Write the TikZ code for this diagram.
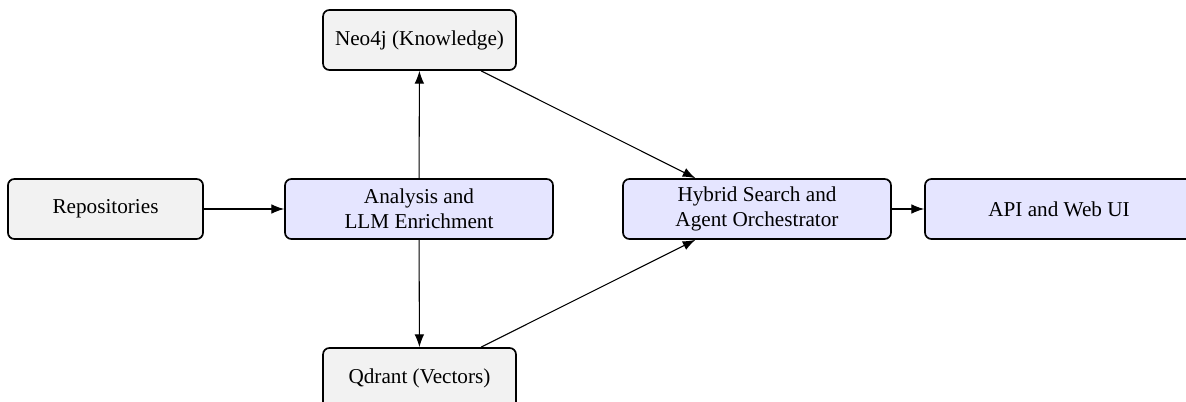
\documentclass[tikz,border=0pt]{standalone}
\usepackage{fontspec}
\setmainfont{Liberation Serif}
\usetikzlibrary{arrows.meta}
\tikzset{
  box/.style={draw, line width=0.8pt, rounded corners=3pt, minimum height=28.3pt, align=center, inner sep=2pt, font=\normalsize},
  graybox/.style={box, fill=gray!10},
  bluebox/.style={box, fill=blue!10},
  conn/.style={-{Latex[length=6pt,width=4.5pt]}, line width=0.5pt},
}
\begin{document}
\begin{tikzpicture}[x=0.4717pt,y=-0.4717pt]
\clip (0,0) rectangle (1186,402);
\useasboundingbox (0,0) rectangle (1186,402);
\node[graybox, minimum width=92pt] (repo) at (105.5,209) {\raisebox{-1pt}{Repositories}};
\node[bluebox, minimum width=126.4pt] (ana) at (419,209) {Analysis and\\LLM Enrichment};
\node[graybox, minimum width=91pt] (neo) at (419.5,40) {\raisebox{-1pt}{Neo4j (Knowledge)}};
\node[graybox, minimum width=91pt] (qd) at (419.5,378) {\raisebox{-1pt}{Qdrant (Vectors)}};
\node[bluebox, minimum width=126.4pt] (hyb) at (757,209) {Hybrid Search and\\Agent Orchestrator};
\node[bluebox, minimum width=126.4pt] (api) at (1059,209) {\raisebox{-1pt}{API and Web UI}};
\draw[conn] (repo) -- (ana);
\draw[conn] (ana) -- (neo);
\draw[conn] (ana) -- (qd);
\draw[conn] (neo) -- (hyb);
\draw[conn] (qd) -- (hyb);
\draw[conn] (hyb) -- (api);
\end{tikzpicture}
\end{document}
